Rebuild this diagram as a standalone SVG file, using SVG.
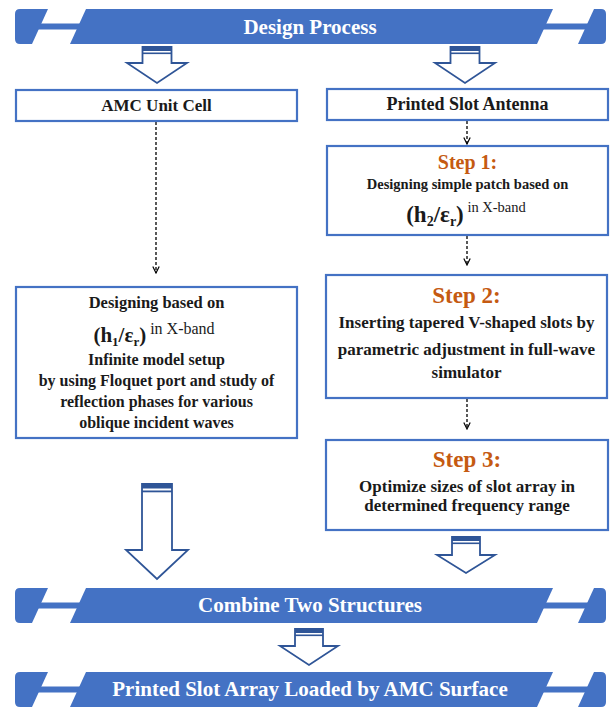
<svg xmlns="http://www.w3.org/2000/svg" width="616" height="709" viewBox="0 0 616 709">
<style>
.bn{fill:#4472C4}
.bt{font-family:"Liberation Serif",serif;font-weight:bold;font-size:21px;fill:#fff;text-anchor:middle}
.box{fill:#fff;stroke:#4472C4;stroke-width:2.2}
.t{font-family:"Liberation Serif",serif;font-weight:bold;fill:#1a1a1a;text-anchor:middle}
.st{font-family:"Liberation Serif",serif;font-weight:bold;fill:#C55A11;text-anchor:middle}
.ba{fill:#fff;stroke:#2F5597;stroke-width:1.8;stroke-linejoin:miter}
.cap{fill:#2F5597}
.dash{fill:none;stroke:#000;stroke-width:1.3;stroke-dasharray:3 2}
</style>
<defs>
<g id="banner">
<path class="bn" d="M20,0 L48,0 L32,35 L20,35 Q15,35 15,30 L15,5 Q15,0 20,0 Z"/>
<rect class="bn" x="36" y="14.5" width="46" height="6"/>
<path class="bn" d="M86,0 L553,0 L537,35 L70,35 Z"/>
<rect class="bn" x="540" y="14.5" width="50" height="6"/>
<path class="bn" d="M594,0 L601,0 Q606,0 606,5 L606,30 Q606,35 601,35 L578,35 Z"/>
</g>
<marker id="chev" viewBox="0 0 10 10" refX="9" refY="5" markerWidth="8" markerHeight="8" markerUnits="userSpaceOnUse" orient="auto">
<path d="M1,1 L9,5 L1,9" fill="none" stroke="#000" stroke-width="1.5"/>
</marker>
</defs>

<g id="banner-design">
<use href="#banner" transform="translate(0,9)"/>
<text class="bt" x="310" y="34">Design Process</text>
</g>

<g id="arrows">
<g id="arrow-top-left">
<path class="ba" d="M142.5,47 L142.5,63 L127,63 L157,83 L187,63 L171.5,63 L171.5,47 Z"/>
<rect class="cap" x="142.5" y="46.5" width="29" height="4.5"/>
<rect class="cap" x="142.5" y="52.5" width="29" height="1.6"/>
</g>
<g id="arrow-top-right">
<path class="ba" d="M450.5,47 L450.5,63 L435,63 L465,83 L495,63 L479.5,63 L479.5,47 Z"/>
<rect class="cap" x="450.5" y="46.5" width="29" height="4.5"/>
<rect class="cap" x="450.5" y="52.5" width="29" height="1.6"/>
</g>
<g id="arrow-big-left">
<path class="ba" d="M142,484 L142,550 L126,550 L157,579 L188,550 L172,550 L172,484 Z"/>
<rect class="cap" x="142" y="483.5" width="30" height="5"/>
<rect class="cap" x="142" y="490.5" width="30" height="1.8"/>
</g>
<g id="arrow-low-right">
<path class="ba" d="M452,537 L452,555 L437,555 L466,573 L495,555 L480,555 L480,537 Z"/>
<rect class="cap" x="452" y="536.5" width="28" height="4.5"/>
<rect class="cap" x="452" y="542.5" width="28" height="1.6"/>
</g>
<g id="arrow-mid">
<path class="ba" d="M295,629 L295,646 L280,646 L309,665 L338,646 L323,646 L323,629 Z"/>
<rect class="cap" x="295" y="628.5" width="28" height="4.5"/>
<rect class="cap" x="295" y="634.5" width="28" height="1.6"/>
</g>
</g>

<g id="connectors">
<line class="dash" x1="156" y1="122" x2="156" y2="273" marker-end="url(#chev)"/>
<line class="dash" x1="467" y1="121" x2="467" y2="144" marker-end="url(#chev)"/>
<line class="dash" x1="467" y1="236" x2="467" y2="265" marker-end="url(#chev)"/>
<line class="dash" x1="467" y1="399" x2="467" y2="429" marker-end="url(#chev)"/>
</g>

<g id="amc-unit-cell">
<rect class="box" x="16" y="90" width="281" height="31"/>
<text class="t" x="156.5" y="111" font-size="17">AMC Unit Cell</text>
</g>

<g id="amc-design">
<rect class="box" x="16" y="287" width="281" height="151"/>
<text class="t" x="156.5" y="308" font-size="16.5">Designing based on</text>
<text class="t" x="154" y="342" font-size="21">(h<tspan font-size="13" dy="4">1</tspan><tspan dy="-4">/ε</tspan><tspan font-size="13" dy="4">r</tspan><tspan dy="-4">)</tspan><tspan font-size="16" font-weight="normal" dy="-8"> in X-band</tspan></text>
<text class="t" x="156.5" y="365" font-size="16">Infinite model setup</text>
<text class="t" x="156.5" y="386" font-size="16">by using Floquet port and study of</text>
<text class="t" x="156.5" y="407" font-size="16">reflection phases for various</text>
<text class="t" x="156.5" y="428" font-size="16">oblique incident waves</text>
</g>

<g id="printed-slot-antenna">
<rect class="box" x="327" y="89" width="281" height="31"/>
<text class="t" x="467.5" y="110" font-size="18">Printed Slot Antenna</text>
</g>

<g id="step1">
<rect class="box" x="327" y="146" width="281" height="89"/>
<text class="st" x="467.5" y="169" font-size="20">Step 1:</text>
<text class="t" x="467.5" y="189" font-size="14.5">Designing simple patch based on</text>
<text class="t" x="466" y="222" font-size="23">(h<tspan font-size="14" dy="4">2</tspan><tspan dy="-4">/ε</tspan><tspan font-size="14" dy="4">r</tspan><tspan dy="-4">)</tspan><tspan font-size="14.5" font-weight="normal" dy="-10"> in X-band</tspan></text>
</g>

<g id="step2">
<rect class="box" x="326" y="275" width="281" height="123"/>
<text class="st" x="466.5" y="303" font-size="23">Step 2:</text>
<text class="t" x="466.5" y="328" font-size="17">Inserting tapered V-shaped slots by</text>
<text class="t" x="466.5" y="355" font-size="17">parametric  adjustment in full-wave</text>
<text class="t" x="466.5" y="378" font-size="17">simulator</text>
</g>

<g id="step3">
<rect class="box" x="326" y="440" width="282" height="90"/>
<text class="st" x="467" y="467" font-size="23">Step 3:</text>
<text class="t" x="467" y="492" font-size="17">Optimize sizes of slot array in</text>
<text class="t" x="467" y="511" font-size="17">determined frequency range</text>
</g>

<g id="banner-combine">
<use href="#banner" transform="translate(0,588)"/>
<text class="bt" x="310" y="612">Combine Two Structures</text>
</g>

<g id="banner-final">
<use href="#banner" transform="translate(0,672)"/>
<text class="bt" x="310" y="696">Printed Slot Array Loaded by AMC Surface</text>
</g>
</svg>
